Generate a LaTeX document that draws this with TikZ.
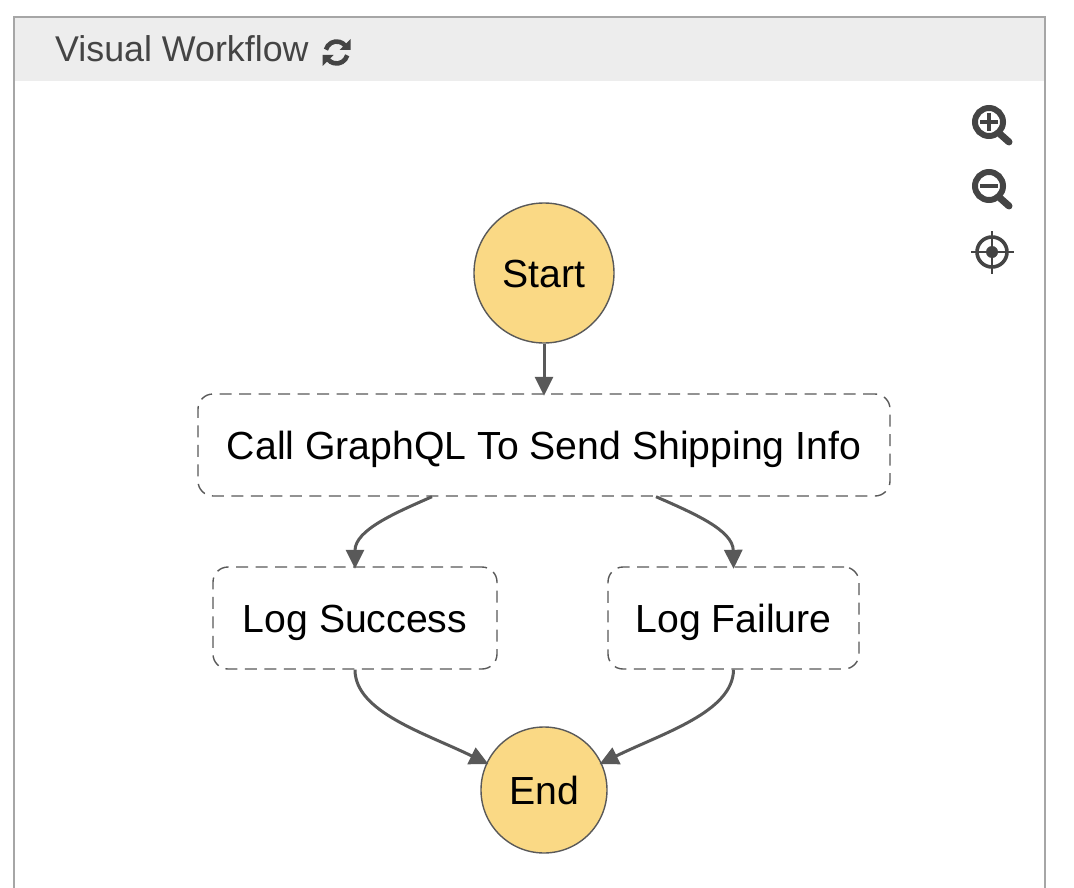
\documentclass[tikz,border=0pt]{standalone}
\usepackage{fontspec}
\setmainfont{Liberation Sans}
\usetikzlibrary{arrows.meta}
\definecolor{edge}{HTML}{595959}
\definecolor{icon}{HTML}{444444}
\definecolor{gold}{HTML}{FAD985}
\tikzset{
  x=1pt,y=-1pt,
  stateC/.style={circle,draw=edge,line width=1.4pt,fill=gold,inner sep=0pt,font=\fontsize{39.2}{39.2}\selectfont,text=black,text height=28pt,text depth=0pt},
  taskbox/.style={draw=edge,line width=1.4pt,dash pattern=on 12pt off 7.5pt,rounded corners=15pt,minimum height=102pt,inner sep=0pt,font=\fontsize{39.2}{39.2}\selectfont,text=black,text height=28pt,text depth=0pt},
  flow/.style={draw=edge,line width=3pt,shorten >=-2.5pt,-{Triangle[length=19pt,width=18pt]}},
  ico/.style={draw=icon,line cap=round}
}
\begin{document}
\begin{tikzpicture}
\useasboundingbox (0,0) rectangle (1074,888);
\fill[white] (0,0) rectangle (1074,888);
\fill[black!7] (15,18) rectangle (1044,81);
\draw[black!35,line width=2.2pt] (14,888) -- (14,17) -- (1045,17) -- (1045,888);
\node[anchor=base west,inner sep=0pt,text=icon,font=\fontsize{35.8}{35.8}\selectfont] (title) at (55,62) {Visual Workflow};
% refresh icon
\draw[icon,line width=4.6pt] (336.6,52.5) ++(165:11pt) arc[start angle=165,end angle=40,radius=11pt];
\fill[icon] (350.5,39) -- (350.5,50) -- (339.5,50) -- cycle;
\draw[icon,line width=4.6pt] (336.6,52.5) ++(-15:11pt) arc[start angle=-15,end angle=-140,radius=11pt];
\fill[icon] (322.7,66) -- (322.7,55) -- (333.7,55) -- cycle;
% zoom in
\draw[ico,line width=6pt] (989,122) circle[radius=14];
\draw[ico,line width=7pt] (1000,134) -- (1009,142);
\draw[ico,line width=3.4pt,line cap=butt] (980,122) -- (998,122);
\draw[ico,line width=3.4pt,line cap=butt] (989,113) -- (989,131);
% zoom out
\draw[ico,line width=6pt] (989,186) circle[radius=14];
\draw[ico,line width=7pt] (1000,198) -- (1009,206);
\draw[ico,line width=3.8pt,line cap=butt] (980,186) -- (998,186);
% centre
\draw[ico,line width=3.6pt] (992,252) circle[radius=15];
\fill[icon] (992,252) circle[radius=6];
\draw[ico,line width=2.6pt,line cap=butt] (971,252) -- (1014,252);
\draw[ico,line width=2.6pt,line cap=butt] (992,231) -- (992,274);
% nodes
\node[stateC,minimum size=140pt] (start) at (544,273) {Start};
\node[taskbox,minimum width=692pt] (call) at (544,445) {Call GraphQL To Send Shipping Info};
\node[taskbox,minimum width=284pt] (succ) at (355,618) {Log Success};
\node[taskbox,minimum width=251pt] (fail) at (733.5,618) {Log Failure};
\node[stateC,minimum size=126pt] (end) at (544,790) {End};
% connectors
\draw[flow] (start.south) -- (call.north);
\draw[flow] ([xshift=-112pt]call.south) .. controls (395,513) and (355,530) .. (succ.north);
\draw[flow] ([xshift=112pt]call.south) .. controls (693,513) and (733,530) .. (fail.north);
\draw[flow] (succ.south) .. controls (355,712) and (425,733) .. (end.155);
\draw[flow] (fail.south) .. controls (733,712) and (663,733) .. (end.25);
\end{tikzpicture}
\end{document}
